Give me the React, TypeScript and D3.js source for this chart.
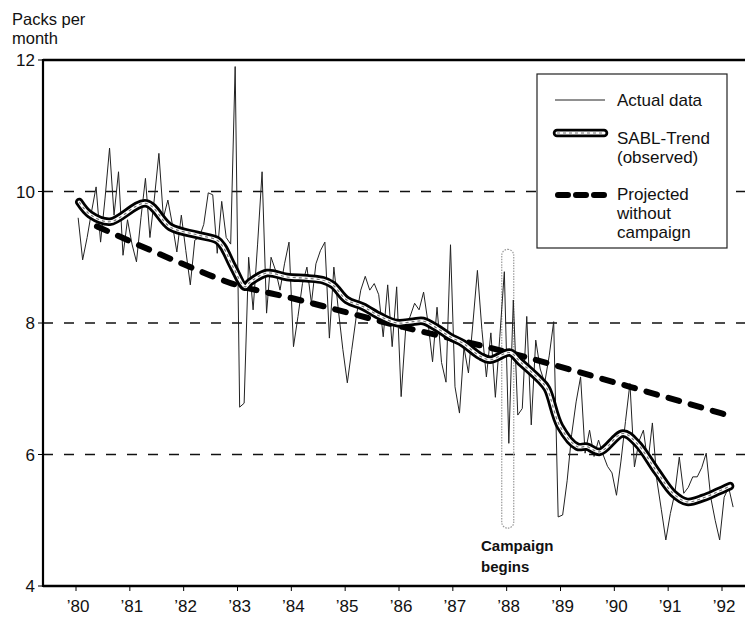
import { useEffect, useRef } from "react";
import * as d3 from "d3";

// monthly packs per month, Jan 1980 onwards
const actualData = [
    9.6, 8.96, 9.3, 9.7, 10.07, 9.23, 9.9, 10.66, 9.64, 10.3, 9.03, 9.57,
    9.2, 8.93, 9.6, 10.2, 9.3, 9.9, 10.58, 9.6, 9.87, 9.5, 9.08, 9.64,
    9.1, 8.58, 9.26, 9.3, 9.5, 9.98, 9.95, 9.06, 9.85, 9.3, 9.2, 11.9,
    6.72, 6.78, 9.0, 8.2, 9.2, 10.3, 8.15, 9.0, 8.8, 8.5, 8.9, 9.23,
    7.64, 8.1, 8.6, 8.85, 8.3, 8.9, 9.1, 9.23, 7.77, 8.85, 8.2, 7.6,
    7.09, 7.6, 8.1, 8.5, 8.71, 8.5, 8.6, 8.43, 7.79, 8.58, 7.64, 8.55,
    6.88, 7.9, 8.1, 8.3, 8.2, 8.47, 8.0, 7.41, 8.24, 7.4, 7.1, 9.19,
    7.03, 6.63, 7.63, 7.24, 8.0, 8.8, 7.9, 7.18, 7.85, 6.87, 7.8, 8.78,
    6.17, 8.35, 6.6, 6.7, 8.1, 6.45, 7.74, 7.3, 7.09, 7.5, 8.02, 5.05,
    5.08, 5.6, 6.3, 6.8, 7.18, 6.02, 6.37, 5.97, 6.22, 6.0, 5.82, 5.72,
    5.38, 5.9, 6.5, 7.08, 5.81, 6.2, 6.37, 5.87, 6.48, 5.61, 5.16, 4.7,
    5.1, 5.41, 5.96, 5.41, 5.5, 5.66, 5.66, 5.8, 6.02, 5.35, 5.0, 4.7,
    5.35, 5.5, 5.2,
];
const startYear = 1980.04;

const trendYears = [
    1980.06, 1980.26, 1980.63, 1981.3, 1981.75, 1982.25, 1982.62, 1982.73, 1982.92,
    1983.14, 1983.23, 1983.55, 1983.92, 1984.29, 1984.59, 1984.77, 1985.03, 1985.33,
    1985.65, 1985.96, 1986.26, 1986.45, 1986.71, 1986.95, 1987.19, 1987.5, 1987.69,
    1988.06, 1988.25, 1988.62, 1988.75, 1988.99, 1989.31, 1989.49, 1989.73, 1990.16,
    1990.42, 1990.79, 1991.09, 1991.35, 1991.65, 1991.91, 1992.15,
];
const trendValues = [
    9.84, 9.65, 9.54, 9.82, 9.46, 9.34, 9.26, 9.16, 8.85,
    8.55, 8.62, 8.76, 8.7, 8.68, 8.65, 8.58, 8.35, 8.25,
    8.1, 8.0, 8.02, 8.03, 7.92, 7.79, 7.69, 7.5, 7.44,
    7.55, 7.41, 7.13, 7.0, 6.43, 6.12, 6.12, 6.04, 6.32,
    6.17, 5.74, 5.41, 5.28, 5.34, 5.43, 5.52,
];

const projectedYears = [ 1980.39, 1981.95, 1982.9, 1984.0, 1986.07, 1987.9, 1990.29, 1992.1 ];
const projectedValues = [ 9.47, 8.91, 8.6, 8.38, 7.94, 7.58, 7.03, 6.6 ];

const yearTicks = [ 1980, 1981, 1982, 1983, 1984, 1985, 1986, 1987, 1988, 1989, 1990, 1991, 1992 ];
const yearLabels = [ "’80", "’81", "’82", "’83", "’84", "’85", "’86", "’87", "’88", "’89", "’90", "’91", "’92" ];
const yTicks = [ 4, 6, 8, 10, 12 ];
const gridValues = [ 6, 8, 10 ];
const campaignYear = 1988.02;
const campaignRange = [ 4.88, 9.12 ];

const FONT = "'Liberation Sans', Arial, sans-serif";

export default function App ()
{
    const svgRef = useRef<SVGSVGElement>( null );

    useEffect( () =>
    {
        document.body.style.margin = "0";
        if ( !svgRef.current ) return;
        const svg = d3.select( svgRef.current );
        svg.selectAll( "*" ).remove();

        const left = 43, right = 745;
        const x = d3.scaleLinear().domain( [ 1980, 1992 ] ).range( [ 76, 722 ] );
        const y = d3.scaleLinear().domain( [ 4, 12 ] ).range( [ 586, 60 ] );

        svg.append( "rect" ).attr( "width", 745 ).attr( "height", 618 ).attr( "fill", "#fff" );

        // y title
        svg.append( "text" ).attr( "x", 12 ).attr( "y", 25 ).attr( "fill", "#111" )
            .style( "font-size", "16.5px" ).style( "font-family", FONT ).text( "Packs per" );
        svg.append( "text" ).attr( "x", 12 ).attr( "y", 44 ).attr( "fill", "#111" )
            .style( "font-size", "16.5px" ).style( "font-family", FONT ).text( "month" );

        // gridlines
        svg.append( "g" ).selectAll( "line" ).data( gridValues ).join( "line" )
            .attr( "x1", left ).attr( "x2", right )
            .attr( "y1", d => y( d ) ).attr( "y2", d => y( d ) )
            .attr( "stroke", "#111" ).attr( "stroke-width", 1.3 ).attr( "stroke-dasharray", "10,11" );

        // campaign marker
        const cx = x( campaignYear );
        svg.append( "rect" )
            .attr( "x", cx - 6 ).attr( "y", y( campaignRange[ 1 ] ) )
            .attr( "width", 12 ).attr( "height", y( campaignRange[ 0 ] ) - y( campaignRange[ 1 ] ) )
            .attr( "rx", 6 ).attr( "fill", "none" )
            .attr( "stroke", "#9a9a9a" ).attr( "stroke-width", 1.2 ).attr( "stroke-dasharray", "1.5,1.2" );

        svg.append( "text" ).attr( "x", 481 ).attr( "y", 551 ).attr( "fill", "#111" )
            .style( "font-size", "15px" ).style( "font-weight", "700" )
            .style( "font-family", "'Liberation Sans Narrow', 'Arial Narrow', sans-serif" ).text( "Campaign" );
        svg.append( "text" ).attr( "x", 481 ).attr( "y", 572 ).attr( "fill", "#111" )
            .style( "font-size", "15px" ).style( "font-weight", "700" )
            .style( "font-family", "'Liberation Sans Narrow', 'Arial Narrow', sans-serif" ).text( "begins" );

        // actual data
        const actualLine = d3.line<number>()
            .x( ( _, i ) => x( startYear + i / 12 ) )
            .y( d => y( d ) );
        svg.append( "path" ).attr( "d", actualLine( actualData ) )
            .attr( "fill", "none" ).attr( "stroke", "#222" ).attr( "stroke-width", 1 )
            .attr( "stroke-linejoin", "miter" );

        // projected
        const projLine = d3.line<number>()
            .x( ( _, i ) => x( projectedYears[ i ] ) )
            .y( d => y( d ) )
            .curve( d3.curveMonotoneX );
        svg.append( "path" ).attr( "d", projLine( projectedValues ) )
            .attr( "fill", "none" ).attr( "stroke", "#000" ).attr( "stroke-width", 6 )
            .attr( "stroke-dasharray", "11,12" ).attr( "stroke-linecap", "round" );

        // SABL trend
        const trendLine = d3.line<number>()
            .x( ( _, i ) => x( trendYears[ i ] ) )
            .y( d => y( d ) )
            .curve( d3.curveCatmullRom.alpha( 0.5 ) );
        const trendD = trendLine( trendValues );
        svg.append( "path" ).attr( "d", trendD )
            .attr( "fill", "none" ).attr( "stroke", "#000" ).attr( "stroke-width", 8.5 )
            .attr( "stroke-linecap", "round" ).attr( "stroke-linejoin", "round" );
        svg.append( "path" ).attr( "d", trendD )
            .attr( "fill", "none" ).attr( "stroke", "#fff" ).attr( "stroke-width", 3 )
            .attr( "stroke-linecap", "round" );
        svg.append( "path" ).attr( "d", trendD )
            .attr( "fill", "none" ).attr( "stroke", "#777" ).attr( "stroke-width", 1.2 )
            .attr( "stroke-dasharray", "3,3" );

        // frame
        svg.append( "line" ).attr( "x1", left ).attr( "x2", right ).attr( "y1", 60 ).attr( "y2", 60 )
            .attr( "stroke", "#000" ).attr( "stroke-width", 2.5 );
        svg.append( "line" ).attr( "x1", left ).attr( "x2", right ).attr( "y1", 586 ).attr( "y2", 586 )
            .attr( "stroke", "#000" ).attr( "stroke-width", 2.5 );
        svg.append( "line" ).attr( "x1", left ).attr( "x2", left ).attr( "y1", 59 ).attr( "y2", 587 )
            .attr( "stroke", "#000" ).attr( "stroke-width", 2.2 );

        // y ticks + labels
        const yg = svg.append( "g" );
        yg.selectAll( "line" ).data( yTicks ).join( "line" )
            .attr( "x1", left - 5 ).attr( "x2", left ).attr( "y1", d => y( d ) ).attr( "y2", d => y( d ) )
            .attr( "stroke", "#000" ).attr( "stroke-width", 1 );
        yg.selectAll( "text" ).data( yTicks ).join( "text" )
            .attr( "x", 35 ).attr( "y", d => y( d ) + 6 ).attr( "text-anchor", "end" ).attr( "fill", "#111" )
            .style( "font-size", "17px" ).style( "font-family", FONT ).text( d => d );

        // x ticks + labels
        const xg = svg.append( "g" );
        xg.selectAll( "line" ).data( yearTicks ).join( "line" )
            .attr( "x1", d => x( d ) ).attr( "x2", d => x( d ) ).attr( "y1", 586 ).attr( "y2", 591 )
            .attr( "stroke", "#000" ).attr( "stroke-width", 1 );
        xg.selectAll( "text" ).data( yearTicks ).join( "text" )
            .attr( "x", d => x( d ) + 2 ).attr( "y", 612 ).attr( "text-anchor", "middle" ).attr( "fill", "#111" )
            .style( "font-size", "17px" ).style( "font-family", FONT ).text( ( _, i ) => yearLabels[ i ] );

        // legend
        const lg = svg.append( "g" );
        lg.append( "rect" ).attr( "x", 537 ).attr( "y", 74 ).attr( "width", 190 ).attr( "height", 174 )
            .attr( "fill", "#fff" ).attr( "stroke", "#222" ).attr( "stroke-width", 1.2 );
        lg.append( "line" ).attr( "x1", 555 ).attr( "x2", 605 ).attr( "y1", 100 ).attr( "y2", 100 )
            .attr( "stroke", "#222" ).attr( "stroke-width", 1 );
        lg.append( "line" ).attr( "x1", 557 ).attr( "x2", 604 ).attr( "y1", 133 ).attr( "y2", 133 )
            .attr( "stroke", "#000" ).attr( "stroke-width", 8.5 ).attr( "stroke-linecap", "round" );
        lg.append( "line" ).attr( "x1", 557 ).attr( "x2", 604 ).attr( "y1", 133 ).attr( "y2", 133 )
            .attr( "stroke", "#fff" ).attr( "stroke-width", 3 ).attr( "stroke-linecap", "round" );
        lg.append( "line" ).attr( "x1", 557 ).attr( "x2", 604 ).attr( "y1", 133 ).attr( "y2", 133 )
            .attr( "stroke", "#777" ).attr( "stroke-width", 1.2 ).attr( "stroke-dasharray", "3,3" );
        lg.append( "line" ).attr( "x1", 558 ).attr( "x2", 605 ).attr( "y1", 195 ).attr( "y2", 195 )
            .attr( "stroke", "#000" ).attr( "stroke-width", 6 ).attr( "stroke-dasharray", "10,8" )
            .attr( "stroke-linecap", "round" );

        const legendText: [ string, number ][] = [
            [ "Actual data", 106 ], [ "SABL-Trend", 144 ], [ "(observed)", 163 ],
            [ "Projected", 200 ], [ "without", 219 ], [ "campaign", 238 ],
        ];
        legendText.forEach( ( [ t, ty ] ) =>
        {
            lg.append( "text" ).attr( "x", 617 ).attr( "y", ty ).attr( "fill", "#111" )
                .style( "font-size", "17px" ).style( "font-family", FONT ).text( t );
        } );
    }, [] );

    return <svg ref={ svgRef } width={ 745 } height={ 618 } style={ { display: "block" } } />;
}
